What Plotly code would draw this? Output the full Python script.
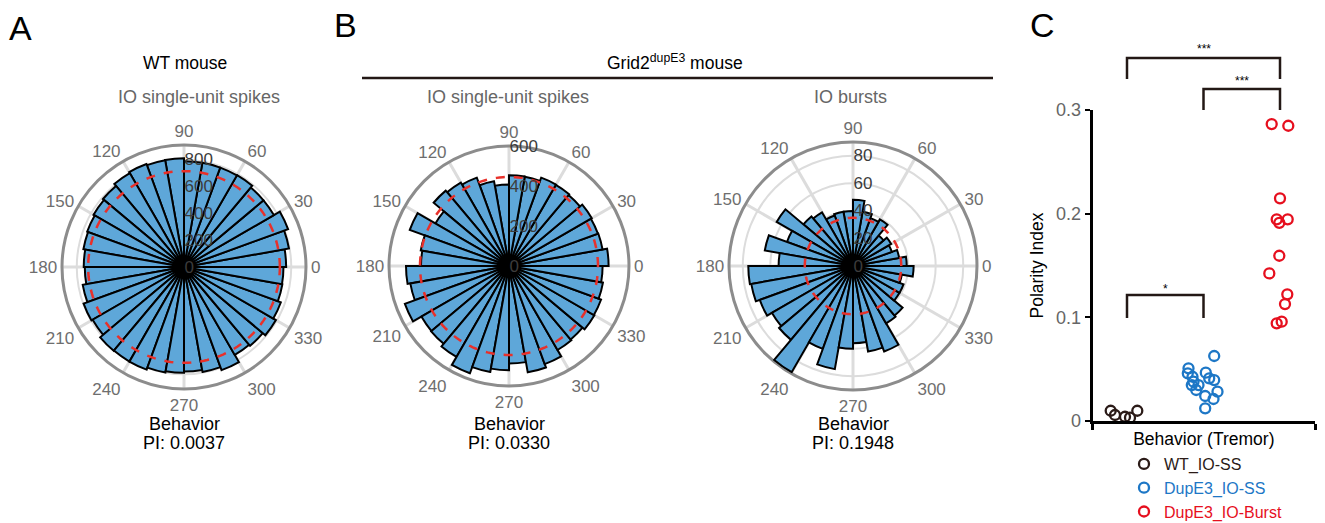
import plotly.graph_objects as go

# ---------------- data ----------------
bin_centers = [5, 15, 25, 35, 45, 55, 65, 75, 85, 95, 105, 115, 125, 135, 145, 155, 165, 175,
               185, 195, 205, 215, 225, 235, 245, 255, 265, 275, 285, 295, 305, 315, 325, 335, 345, 355]
bin_width = 10

wt_ss_counts = [762, 795, 826, 774, 774, 792, 789, 789, 789, 811, 809, 818, 809, 789, 779, 769, 762, 748,
                740, 767, 797, 787, 816, 814, 815, 799, 789, 780, 795, 819, 757, 767, 792, 769, 745, 742]
wt_ss_ref = 715

dup_ss_counts = [498, 475, 473, 478, 463, 468, 470, 453, 454, 407, 430, 470, 482, 492, 425, 528, 448, 440,
                 515, 501, 554, 506, 508, 525, 571, 538, 521, 488, 540, 522, 485, 480, 493, 490, 477, 468]
dup_ss_ref = 445

dup_burst_counts = [39, 34, 30, 32, 29, 39, 37, 40, 48, 40, 40, 39, 45, 47, 64, 51, 65, 54,
                    76, 75, 72, 68, 70, 89, 64, 76, 60, 56, 63, 66, 48, 47, 39, 39, 36, 44]
dup_burst_ref = 35

pi_labels = ["PI: 0.0037", "PI: 0.0330", "PI: 0.1948"]

# panel C
group_names = ["WT_IO-SS", "DupE3_IO-SS", "DupE3_IO-Burst"]
wt_pi = [0.0099, 0.0058, 0.0041, 0.0032, 0.0099]
wt_jit = [-16.3, -12, -2, 3, 10.3]
dup_ss_pi = [0.0627, 0.0508, 0.0460, 0.0427, 0.0379, 0.0347, 0.0299, 0.0466, 0.0412, 0.0395,
             0.0241, 0.0283, 0.0212, 0.0122, 0.0347]
dup_ss_jit = [10.7, -15, -15.7, -11, -10, -11.7, -7.3, 2.3, 5.7, 10.7, 1.7, 14, 10, 1.7, -5]
dup_burst_pi = [0.2864, 0.2848, 0.2148, 0.1945, 0.1912, 0.1945, 0.1594, 0.1424, 0.1222, 0.1128,
                0.0942, 0.0958]
dup_burst_jit = [-8.3, 8.3, 0, -3.3, -0.7, 7.7, -0.7, -10.7, 7.3, 5, -3.3, 1.7]

# ---------------- style ----------------
W, H = 1325, 523
FONT = "Liberation Sans, Arial, Helvetica, sans-serif"
BAR = "#5ea7d9"
REDL = "#e8302a"
GRID = "#dcdcdc"
RIM = "#8c8c8c"
ANG_TXT = "#6e6e6e"
RAD_TXT = "#3c3c3c"
COLS = ["#2b1b18", "#1d77c6", "#e60f1e"]


def px_x(x):
    return x / W


def px_y(y):
    return 1 - y / H


def dom(cx, cy, r):
    return dict(x=[px_x(cx - r), px_x(cx + r)], y=[px_y(cy + r), px_y(cy - r)])


fig = go.Figure()

polars = [
    ("polar", wt_ss_counts, wt_ss_ref, (184, 267, 122), [0, 910], [0, 200, 400, 600, 800]),
    ("polar2", dup_ss_counts, dup_ss_ref, (509, 266, 120), [0, 600], [0, 200, 400, 600]),
    ("polar3", dup_burst_counts, dup_burst_ref, (853, 266, 124), [0, 90], [0, 20, 40, 60, 80]),
]

ref_theta = list(range(0, 361, 2))

for name, counts, ref, (cx, cy, r), rng, tv in polars:
    fig.add_trace(go.Barpolar(
        r=counts, theta=bin_centers, width=[bin_width] * len(counts),
        marker=dict(color=BAR, line=dict(color="black", width=2)),
        subplot=name, showlegend=False, hoverinfo="skip"))
    fig.add_trace(go.Scatterpolar(
        r=[ref] * len(ref_theta), theta=ref_theta, mode="lines",
        line=dict(color=REDL, width=2.5, dash="dash"),
        subplot=name, showlegend=False, hoverinfo="skip"))
    fig.layout[name] = dict(
        domain=dom(cx, cy, r),
        bgcolor="white",
        radialaxis=dict(range=rng, tickvals=tv, ticktext=[str(v) for v in tv],
                        angle=90, tickangle=90, showline=False, ticks="", gridcolor=GRID, gridwidth=2,
                        tickfont=dict(family=FONT, size=17, color=RAD_TXT),
                        layer="above traces"),
        angularaxis=dict(tickmode="array", tickvals=list(range(0, 360, 30)),
                         ticktext=[str(v) for v in range(0, 360, 30)],
                         direction="counterclockwise", rotation=0,
                         showline=True, linecolor=RIM, linewidth=3,
                         gridcolor=GRID, gridwidth=2.5, ticks="",
                         tickfont=dict(family=FONT, size=17, color=ANG_TXT),
                         layer="below traces"),
    )

# ---------------- panel C ----------------
xc_px = [1127, 1205, 1280]
unit = (xc_px[2] - xc_px[0]) / 2.0
x_left_px, x_right_px = 1092.7, 1315
xr = [1 + (x_left_px - xc_px[0]) / unit, 1 + (x_right_px - xc_px[0]) / unit]

for gi, (vals, jit) in enumerate([(wt_pi, wt_jit), (dup_ss_pi, dup_ss_jit), (dup_burst_pi, dup_burst_jit)]):
    fig.add_trace(go.Scatter(
        x=[gi + 1 + j / unit for j in jit], y=vals, mode="markers",
        name="<span style='color:%s'>%s</span>" % (COLS[gi], group_names[gi]),
        marker=dict(symbol="circle-open", size=10, color=COLS[gi], line=dict(width=2.3, color=COLS[gi])),
        cliponaxis=False, xaxis="x", yaxis="y"))

fig.update_layout(
    xaxis=dict(domain=[px_x(x_left_px), px_x(x_right_px)], range=xr, showgrid=False, zeroline=False,
               showline=True, linecolor="black", linewidth=3,
               tickmode="array", tickvals=xr, ticks="outside", ticklen=6, tickwidth=2.5, tickcolor="black",
               showticklabels=False, automargin=False,
               title=dict(text="Behavior (Tremor)", font=dict(family=FONT, size=17.5, color="black"), standoff=4),
               anchor="y"),
    yaxis=dict(domain=[px_y(421), px_y(110)], range=[0, 0.3], showgrid=False, zeroline=False,
               showline=True, linecolor="black", linewidth=3, automargin=False,
               tickmode="array", tickvals=[0, 0.1, 0.2, 0.3], ticktext=["0", "0.1", "0.2", "0.3"],
               ticks="outside", ticklen=5, tickwidth=2, tickcolor="black",
               tickfont=dict(family=FONT, size=18, color="#666666"),
               title=dict(text="Polarity Index", font=dict(family=FONT, size=17.5, color="black"), standoff=8),
               anchor="x"),
)

shapes = []
annotations = []


def bracket(g1, g2, ytop_px, ybot_px, label, label_y):
    shapes.append(dict(type="path", xref="x", yref="paper",
                       path="M %f,%f L %f,%f L %f,%f L %f,%f" % (g1, px_y(ybot_px), g1, px_y(ytop_px),
                                                             g2, px_y(ytop_px), g2, px_y(ybot_px)),
                       line=dict(color="#231815", width=2.5)))
    annotations.append(dict(x=(g1 + g2) / 2, y=px_y(label_y), xref="x", yref="paper", text=label,
                            showarrow=False, font=dict(family=FONT, size=12, color="black"),
                            xanchor="center", yanchor="middle"))


bracket(1, 3, 58, 79, "***", 49)
bracket(2, 3, 89, 110, "***", 81)
bracket(1, 2, 295, 318, "*", 289)

# line under Grid2 title
shapes.append(dict(type="line", xref="paper", yref="paper", x0=px_x(362), x1=px_x(993),
                   y0=px_y(78), y1=px_y(78), line=dict(color="#231815", width=2.5)))


def txt(x, y, s, size=17, color="black"):
    annotations.append(dict(x=px_x(x), y=px_y(y), xref="paper", yref="paper", text=s, showarrow=False,
                            xanchor="center", yanchor="middle", font=dict(family=FONT, size=size, color=color)))


txt(21, 28, "A", 34)
txt(346, 25, "B", 34)
txt(1042, 25, "C", 34)
txt(185, 63, "WT mouse", 17.5)
txt(199, 97, "IO single-unit spikes", 18, "#666666")
txt(675, 62, "Grid2<sup>dupE3</sup> mouse", 17.5)
txt(508, 97, "IO single-unit spikes", 18, "#666666")
txt(851, 97, "IO bursts", 18, "#666666")
for cx, lab in zip([184, 509, 853], pi_labels):
    txt(cx, 424, "Behavior", 18)
    txt(cx, 443, lab, 18)

fig.update_layout(
    shapes=shapes, annotations=annotations,
    width=W, height=H, margin=dict(l=0, r=0, t=0, b=0, pad=0, autoexpand=False),
    paper_bgcolor="white", plot_bgcolor="white",
    font=dict(family=FONT, size=17, color="black"),
    showlegend=True,
    legend=dict(x=px_x(1124), y=px_y(447), xanchor="left", yanchor="top",
                font=dict(family=FONT, size=16), bgcolor="rgba(0,0,0,0)", tracegroupgap=0,
                itemwidth=30),
)

fig.write_html("out.html", config={"displayModeBar": False},
               post_script="document.body.style.margin='0px';")
